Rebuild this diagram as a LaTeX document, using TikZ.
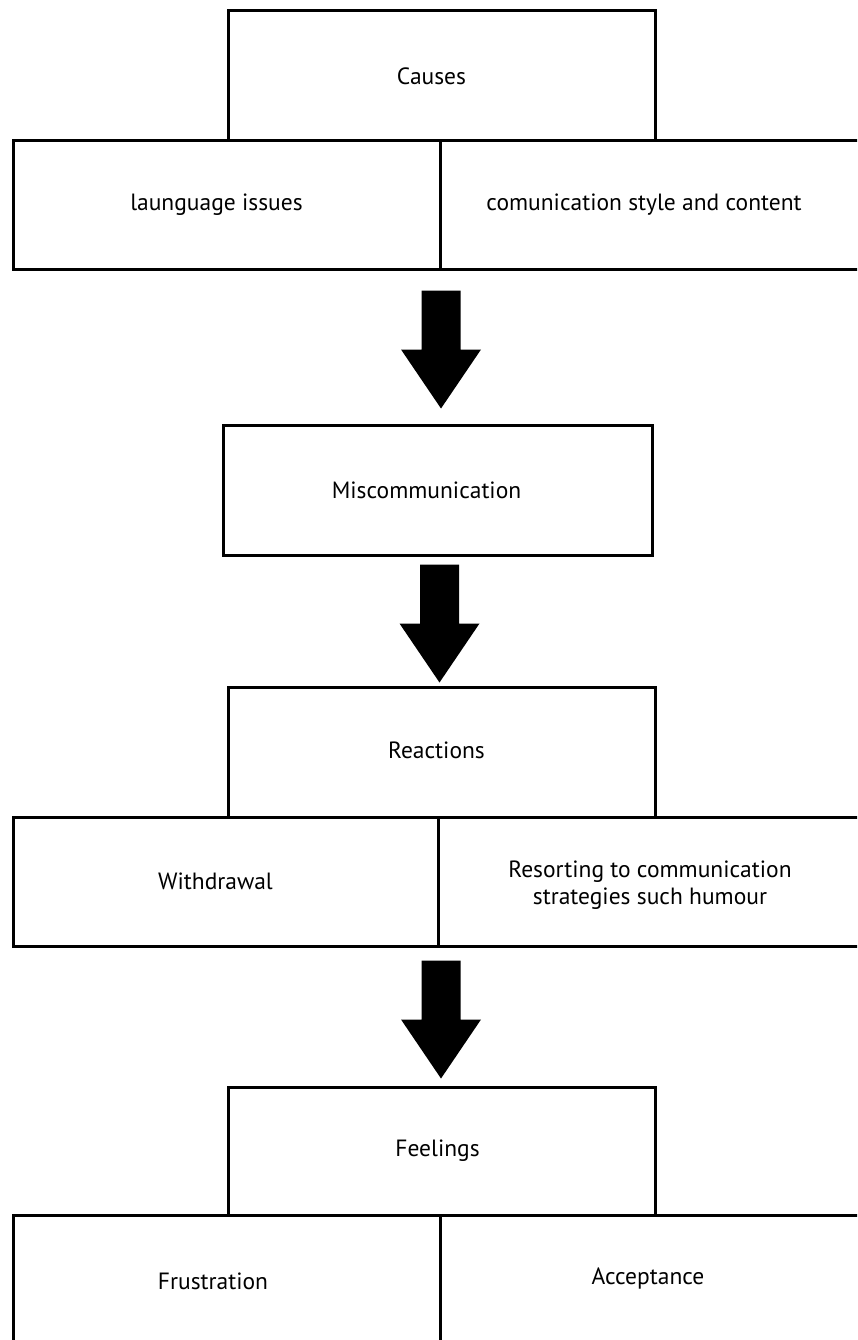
\documentclass[tikz,border=0pt]{standalone}
\usepackage{fontspec}
\setmainfont{PT Sans}
\usetikzlibrary{calc}
\begin{document}
\begin{tikzpicture}[x=1pt,y=-1pt,
  box/.style={draw=black, line width=3pt, fill=white, inner sep=0pt},
  txt/.style={inner sep=0pt, font=\fontsize{23.5}{27}\selectfont, align=center},
  fatarrow/.pic={\fill[black] (-19.5,0) -- (19.5,0) -- (19.5,59) -- (40,59)
    -- (0,118) -- (-40,59) -- (-19.5,59) -- cycle;}]
\useasboundingbox (0,0) rectangle (857,1340);
\clip (0,0) rectangle (857,1340);

% causes block
\node[box, minimum width=427pt, minimum height=130pt] (causes) at (441.5,76) {};
\node[box, minimum width=427pt, minimum height=128pt] (lang) at (226.5,205) {};
\node[box, minimum width=440pt, minimum height=128pt] (style) at (660,205) {};
\node[txt] (causesT) at ($(causes.center)+(-10,0)$) {Causes};
\node[txt] (langT) at ($(lang.center)+(-10,0)$) {launguage issues};
\node[txt] (styleT) at ($(style.center)+(-16,0)$) {comunication style and content};

% miscommunication
\node[box, minimum width=429pt, minimum height=130pt] (misc) at (437.5,490) {};
\node[txt] (miscT) at ($(misc.center)+(-11,0)$) {Miscommunication};

% reactions block
\node[box, minimum width=427pt, minimum height=130pt] (reac) at (441.5,752) {};
\node[box, minimum width=425pt, minimum height=129pt] (withd) at (225.5,881.5) {};
\node[box, minimum width=444pt, minimum height=129pt] (resort) at (660,881.5) {};
\node[txt] (reacT) at ($(reac.center)+(-5,-2)$) {Reactions};
\node[txt] (withdT) at ($(withd.center)+(-10,0)$) {Withdrawal};
\node[txt] (resortT) at ($(resort.center)+(-10,4)$)
  {Resorting to communication\\strategies such humour};

% feelings block
\node[box, minimum width=427pt, minimum height=128pt] (feel) at (441.5,1151) {};
\node[box, minimum width=427pt, minimum height=140pt] (frus) at (226.5,1285) {};
\node[box, minimum width=440pt, minimum height=140pt] (acc) at (660,1285) {};
\node[txt] (feelT) at ($(feel.center)+(-4,0)$) {Feelings};
\node[txt] (frusT) at (213,1281) {Frustration};
\node[txt] (accT) at (648,1278) {Acceptance};

% flow arrows between the blocks
\coordinate (a1) at ($(lang.south east)+(-0.5,20)$);
\coordinate (a2) at ($(misc.south)+(2,8)$);
\coordinate (a3) at ($(withd.south east)+(1.5,13)$);
\pic at (a1) {fatarrow};
\pic at (a2) {fatarrow};
\pic at (a3) {fatarrow};
\end{tikzpicture}
\end{document}
